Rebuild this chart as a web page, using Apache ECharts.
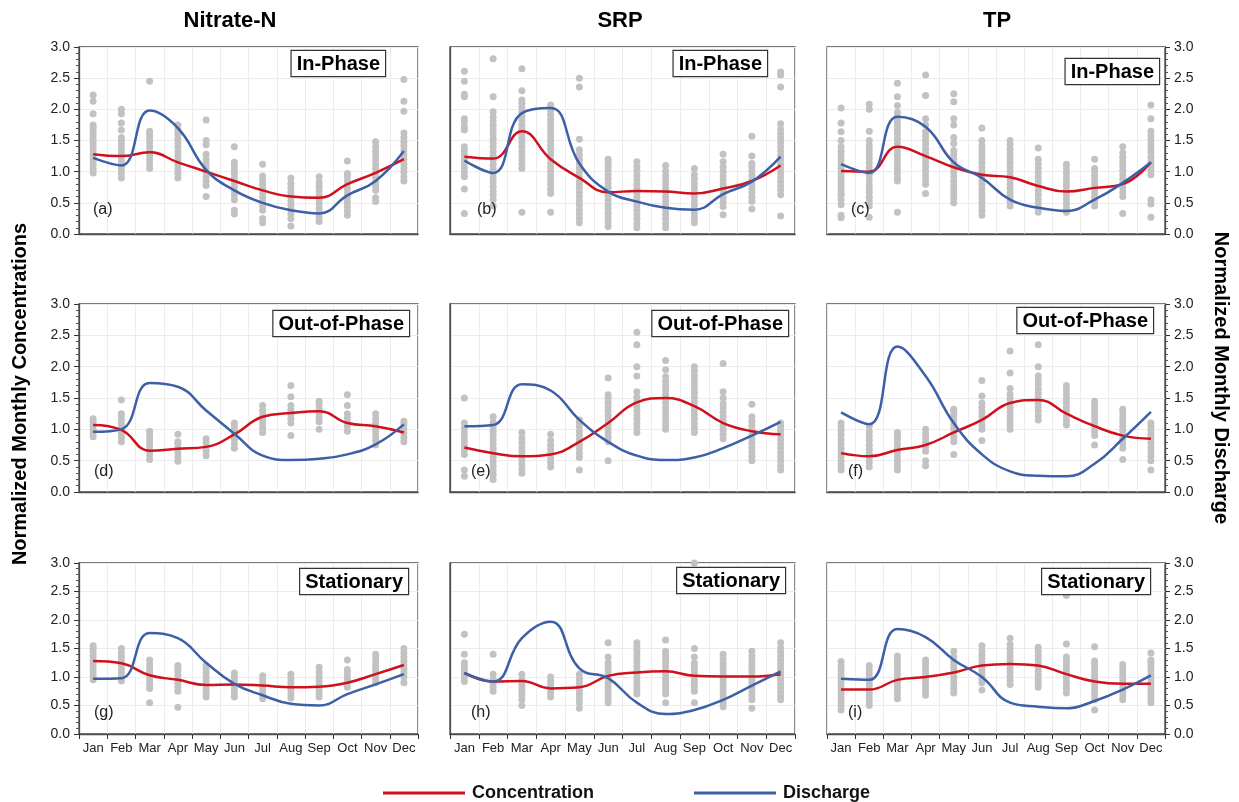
<!DOCTYPE html>
<html>
<head>
<meta charset="utf-8">
<script src="https://cdn.jsdelivr.net/npm/echarts@6/dist/echarts.min.js"></script>
<style>
html,body{margin:0;padding:0;background:#fff;}
#chart{width:1239px;height:802px;}
</style>
</head>
<body>
<div id="chart"></div>
<script>
// ---------- DATA ----------
const months = ['Jan','Feb','Mar','Apr','May','Jun','Jul','Aug','Sep','Oct','Nov','Dec'];
const columnTitles = ['Nitrate-N','SRP','TP'];
const yTicks = [0, 3.0, 0.5];

// (a) Nitrate-N, In-Phase
const concA = [1.28,1.25,1.31,1.15,1.0,0.85,0.7,0.6,0.58,0.8,0.98,1.2];
const disA  = [1.22,1.1,1.98,1.7,1.03,0.7,0.5,0.38,0.33,0.62,0.85,1.33];
const scatA = [
 [0.98,1.04,1.1,1.16,1.22,1.28,1.34,1.4,1.46,1.52,1.58,1.64,1.7,1.75,1.93,2.13,2.23],
 [0.9,0.97,1.04,1.1,1.17,1.24,1.3,1.37,1.44,1.5,1.55,1.67,1.78,1.93,2.0],
 [1.05,1.12,1.19,1.26,1.33,1.4,1.47,1.54,1.6,1.65,2.45],
 [0.9,0.97,1.04,1.11,1.18,1.25,1.32,1.39,1.46,1.53,1.6,1.67,1.75],
 [0.6,0.78,0.85,0.92,0.99,1.06,1.13,1.2,1.28,1.43,1.5,1.83],
 [0.32,0.38,0.55,0.62,0.69,0.76,0.83,0.9,0.97,1.04,1.1,1.15,1.4],
 [0.18,0.25,0.38,0.45,0.52,0.59,0.66,0.73,0.8,0.87,0.93,1.12],
 [0.13,0.25,0.32,0.39,0.46,0.53,0.6,0.67,0.74,0.81,0.9],
 [0.2,0.27,0.34,0.41,0.48,0.55,0.62,0.69,0.76,0.83,0.92],
 [0.3,0.37,0.44,0.51,0.58,0.65,0.72,0.79,0.86,0.93,0.97,1.17],
 [0.52,0.58,0.7,0.77,0.84,0.91,0.98,1.05,1.12,1.19,1.26,1.33,1.4,1.48],
 [0.85,0.92,0.99,1.06,1.13,1.2,1.27,1.34,1.41,1.48,1.55,1.62,1.97,2.13,2.48]
];

// (b) SRP, In-Phase
const concB = [1.24,1.21,1.65,1.2,0.9,0.67,0.69,0.68,0.65,0.73,0.85,1.1];
const disB  = [1.18,0.98,1.94,2.02,1.13,0.68,0.52,0.42,0.39,0.64,0.84,1.24];
const scatB = [
 [0.33,0.72,0.92,0.99,1.06,1.13,1.2,1.27,1.34,1.4,1.67,1.72,1.8,1.85,2.2,2.24,2.45,2.61],
 [0.45,0.55,0.62,0.69,0.76,0.83,0.9,0.97,1.04,1.11,1.18,1.25,1.32,1.39,1.46,1.53,1.6,1.67,1.74,1.81,1.88,1.96,2.2,2.81],
 [0.35,1.05,1.12,1.19,1.26,1.33,1.4,1.47,1.54,1.61,1.68,1.75,1.82,1.89,1.96,2.03,2.1,2.15,2.3,2.65],
 [0.35,0.65,0.72,0.79,0.86,0.93,1.0,1.07,1.14,1.21,1.28,1.35,1.42,1.49,1.56,1.63,1.7,1.77,1.84,1.91,1.98,2.07],
 [0.18,0.25,0.32,0.39,0.46,0.53,0.6,0.67,0.74,0.8,0.84,0.92,0.99,1.06,1.13,1.2,1.27,1.35,1.52,2.36,2.5],
 [0.12,0.19,0.26,0.33,0.4,0.47,0.54,0.61,0.68,0.75,0.82,0.89,0.96,1.03,1.1,1.15,1.2],
 [0.1,0.17,0.24,0.31,0.38,0.45,0.52,0.59,0.66,0.73,0.8,0.87,0.94,1.01,1.08,1.16],
 [0.1,0.17,0.24,0.31,0.38,0.45,0.52,0.59,0.66,0.73,0.8,0.87,0.94,1.01,1.1],
 [0.18,0.25,0.32,0.39,0.46,0.53,0.6,0.67,0.74,0.81,0.88,0.95,1.05],
 [0.31,0.44,0.51,0.58,0.65,0.72,0.79,0.86,0.93,1.0,1.07,1.16,1.28],
 [0.4,0.52,0.59,0.66,0.73,0.8,0.87,0.94,1.01,1.08,1.13,1.25,1.57],
 [0.29,0.63,0.7,0.77,0.84,0.91,0.98,1.05,1.12,1.19,1.26,1.33,1.4,1.47,1.54,1.61,1.68,1.77,2.36,2.55,2.6]
];

// (c) TP, In-Phase
const concC = [1.01,1.0,1.4,1.25,1.07,0.95,0.91,0.77,0.68,0.74,0.8,1.15];
const disC  = [1.12,0.98,1.88,1.72,1.15,0.9,0.55,0.42,0.37,0.55,0.82,1.15];
const scatC = [
 [0.26,0.3,0.47,0.55,0.62,0.65,0.7,0.77,0.84,0.91,0.98,1.05,1.12,1.19,1.26,1.33,1.4,1.5,1.64,1.78,2.02],
 [0.27,0.45,0.52,0.59,0.66,0.73,0.8,0.87,0.95,1.0,1.07,1.14,1.21,1.28,1.35,1.42,1.5,1.65,2.0,2.08],
 [0.35,0.85,0.9,0.97,1.04,1.11,1.18,1.25,1.32,1.39,1.46,1.53,1.6,1.67,1.74,1.81,1.88,1.95,2.06,2.2,2.42],
 [0.65,0.8,0.87,0.94,1.01,1.08,1.15,1.22,1.29,1.36,1.43,1.5,1.57,1.64,1.75,1.85,2.22,2.55],
 [0.5,0.57,0.64,0.71,0.78,0.85,0.92,0.99,1.06,1.13,1.2,1.27,1.34,1.45,1.55,1.75,1.85,2.12,2.25],
 [0.3,0.37,0.44,0.51,0.58,0.65,0.72,0.79,0.86,0.93,1.0,1.07,1.14,1.21,1.28,1.35,1.42,1.5,1.7],
 [0.45,0.52,0.59,0.66,0.73,0.8,0.87,0.94,1.01,1.08,1.15,1.22,1.29,1.36,1.43,1.5],
 [0.35,0.42,0.49,0.56,0.63,0.7,0.77,0.84,0.91,0.98,1.05,1.12,1.2,1.38],
 [0.35,0.42,0.49,0.56,0.63,0.7,0.77,0.84,0.91,0.98,1.05,1.12],
 [0.45,0.52,0.59,0.66,0.73,0.8,0.87,0.94,1.01,1.05,1.2],
 [0.33,0.6,0.67,0.74,0.81,0.88,0.95,1.02,1.09,1.16,1.23,1.3,1.4],
 [0.27,0.48,0.55,0.95,1.02,1.09,1.16,1.23,1.3,1.37,1.44,1.51,1.58,1.65,1.85,2.07]
];

// (d) Nitrate-N, Out-of-Phase
const concD = [1.07,0.99,0.66,0.69,0.72,0.92,1.2,1.26,1.29,1.1,1.05,0.95];
const disD  = [0.96,1.0,1.74,1.68,1.3,0.93,0.58,0.51,0.53,0.6,0.76,1.08];
const scatD = [
 [0.88,0.94,1.0,1.06,1.12,1.17],
 [0.8,0.87,0.94,1.01,1.08,1.15,1.22,1.25,1.47],
 [0.52,0.59,0.66,0.73,0.8,0.87,0.93,0.97],
 [0.49,0.56,0.63,0.7,0.77,0.8,0.92],
 [0.58,0.65,0.72,0.79,0.85],
 [0.7,0.77,0.84,0.91,0.98,1.05,1.1],
 [0.95,1.02,1.09,1.16,1.23,1.3,1.38],
 [0.9,1.1,1.17,1.24,1.31,1.38,1.52,1.7],
 [1.0,1.12,1.19,1.26,1.33,1.4,1.45],
 [0.97,1.04,1.11,1.18,1.25,1.38,1.55],
 [0.75,0.82,0.89,0.96,1.03,1.1,1.17,1.25],
 [0.8,0.87,0.94,1.01,1.08,1.13]
];

// (e) SRP, Out-of-Phase
const concE = [0.71,0.62,0.57,0.6,0.8,1.1,1.43,1.5,1.37,1.1,0.97,0.92];
const disE  = [1.05,1.07,1.72,1.62,1.15,0.8,0.58,0.51,0.55,0.7,0.9,1.12];
const scatE = [
 [0.25,0.35,0.6,0.67,0.74,0.81,0.88,0.95,1.02,1.1,1.5],
 [0.2,0.27,0.34,0.41,0.48,0.55,0.62,0.69,0.76,0.83,0.9,0.97,1.04,1.11,1.2],
 [0.3,0.37,0.44,0.51,0.58,0.65,0.72,0.79,0.86,0.95],
 [0.4,0.47,0.54,0.61,0.68,0.75,0.82,0.92],
 [0.35,0.55,0.62,0.69,0.76,0.83,0.9,0.97,1.04,1.11,1.15],
 [0.5,0.8,0.87,0.94,1.01,1.08,1.15,1.22,1.29,1.36,1.43,1.5,1.55,1.82],
 [0.95,1.02,1.09,1.16,1.23,1.3,1.37,1.44,1.51,1.6,1.85,2.0,2.35,2.55],
 [1.0,1.07,1.14,1.21,1.28,1.35,1.42,1.49,1.56,1.63,1.7,1.77,1.84,1.95,2.1],
 [0.95,1.02,1.09,1.16,1.23,1.3,1.37,1.44,1.51,1.58,1.65,1.72,1.79,1.86,1.93,2.0],
 [0.85,0.92,0.99,1.06,1.13,1.2,1.27,1.34,1.41,1.5,1.6,2.05],
 [0.5,0.57,0.64,0.71,0.78,0.85,0.92,0.99,1.06,1.13,1.2,1.4],
 [0.35,0.42,0.49,0.56,0.63,0.7,0.77,0.84,0.91,0.98,1.05,1.1]
];

// (f) TP, Out-of-Phase
const concF = [0.62,0.57,0.67,0.75,0.95,1.15,1.42,1.47,1.25,1.05,0.9,0.85];
const disF  = [1.27,1.08,2.32,1.85,1.1,0.6,0.33,0.26,0.25,0.45,0.85,1.28];
const scatF = [
 [0.35,0.42,0.49,0.56,0.63,0.7,0.77,0.84,0.91,0.98,1.05,1.1],
 [0.4,0.47,0.54,0.61,0.68,0.75,0.82,0.89,0.96,1.05],
 [0.35,0.42,0.49,0.56,0.63,0.7,0.77,0.84,0.9,0.95],
 [0.42,0.5,0.65,0.72,0.79,0.86,0.93,1.0],
 [0.6,0.8,0.87,0.94,1.01,1.08,1.15,1.22,1.28,1.32],
 [0.82,1.0,1.07,1.14,1.21,1.28,1.35,1.42,1.53,1.78],
 [1.0,1.07,1.14,1.21,1.28,1.35,1.42,1.49,1.56,1.65,1.9,2.25],
 [1.15,1.22,1.29,1.36,1.43,1.5,1.57,1.64,1.71,1.78,1.85,2.0,2.35],
 [1.07,1.14,1.21,1.28,1.35,1.42,1.49,1.56,1.63,1.7],
 [0.75,0.9,0.97,1.04,1.11,1.18,1.25,1.32,1.39,1.45],
 [0.52,0.7,0.77,0.84,0.91,0.98,1.05,1.12,1.19,1.26,1.32],
 [0.35,0.5,0.57,0.64,0.71,0.78,0.85,0.92,0.99,1.05,1.1]
];

// (g) Nitrate-N, Stationary
const concG = [1.28,1.24,1.03,0.95,0.86,0.87,0.85,0.82,0.83,0.9,1.05,1.21];
const disG  = [0.97,0.98,1.77,1.68,1.25,0.88,0.68,0.53,0.5,0.7,0.87,1.05];
const scatG = [
 [0.95,1.02,1.09,1.16,1.23,1.3,1.37,1.44,1.5,1.55],
 [0.93,1.0,1.07,1.14,1.21,1.28,1.35,1.42,1.5],
 [0.55,0.8,0.87,0.94,1.01,1.08,1.15,1.22,1.3],
 [0.47,0.75,0.82,0.89,0.96,1.03,1.1,1.15,1.2],
 [0.65,0.72,0.79,0.86,0.93,1.0,1.07,1.14,1.2],
 [0.65,0.72,0.79,0.86,0.93,1.0,1.07],
 [0.62,0.69,0.76,0.83,0.9,0.97,1.02],
 [0.63,0.7,0.77,0.84,0.91,0.98,1.05],
 [0.65,0.72,0.79,0.86,0.93,1.0,1.08,1.17],
 [0.82,0.89,0.96,1.03,1.1,1.13,1.3],
 [0.9,0.97,1.04,1.11,1.18,1.25,1.32,1.4],
 [0.9,1.0,1.07,1.14,1.21,1.28,1.35,1.42,1.5]
];

// (h) SRP, Stationary
const concH = [1.07,0.92,0.93,0.8,0.82,1.02,1.08,1.1,1.02,1.01,1.01,1.05];
const disH  = [1.07,0.92,1.68,1.97,1.15,0.98,0.55,0.35,0.42,0.6,0.85,1.1];
const scatH = [
 [0.92,0.99,1.06,1.13,1.2,1.25,1.4,1.75],
 [0.75,0.82,0.89,0.96,1.05,1.4],
 [0.5,0.6,0.67,0.74,0.81,0.88,0.95,1.05],
 [0.65,0.72,0.79,0.86,0.93,1.0],
 [0.45,0.55,0.62,0.69,0.76,0.83,0.9,0.97,1.05],
 [0.55,0.62,0.69,0.76,0.83,0.9,0.97,1.04,1.11,1.18,1.25,1.35,1.6],
 [0.7,0.77,0.84,0.91,0.98,1.05,1.12,1.19,1.26,1.33,1.4,1.47,1.54,1.6],
 [0.55,0.7,0.77,0.84,0.91,0.98,1.05,1.12,1.19,1.26,1.33,1.4,1.45,1.65],
 [0.55,0.75,0.82,0.89,0.96,1.03,1.1,1.17,1.24,1.35,1.5,3.0],
 [0.48,0.55,0.62,0.69,0.76,0.83,0.9,0.97,1.04,1.11,1.18,1.25,1.32,1.4],
 [0.45,0.6,0.67,0.74,0.81,0.88,0.95,1.02,1.09,1.16,1.23,1.3,1.37,1.45],
 [0.6,0.67,0.74,0.81,0.88,0.95,1.02,1.09,1.16,1.23,1.3,1.37,1.44,1.51,1.6]
];

// (i) TP, Stationary
const concI = [0.78,0.78,0.95,1.0,1.08,1.2,1.23,1.2,1.05,0.92,0.88,0.88];
const disI  = [0.97,0.95,1.84,1.7,1.3,1.0,0.55,0.48,0.45,0.58,0.78,1.03];
const scatI = [
 [0.42,0.49,0.56,0.63,0.7,0.77,0.84,0.91,0.98,1.05,1.12,1.19,1.27],
 [0.5,0.57,0.64,0.71,0.78,0.85,0.92,0.99,1.06,1.13,1.2],
 [0.62,0.69,0.76,0.83,0.9,0.97,1.04,1.11,1.18,1.25,1.32,1.37],
 [0.68,0.75,0.82,0.89,0.96,1.03,1.1,1.17,1.24,1.3],
 [0.72,0.79,0.86,0.93,1.0,1.07,1.14,1.21,1.28,1.35,1.45],
 [0.77,0.9,0.97,1.04,1.11,1.18,1.25,1.32,1.39,1.46,1.55],
 [0.87,0.94,1.01,1.08,1.15,1.22,1.29,1.36,1.43,1.5,1.57,1.68],
 [0.82,0.89,0.96,1.03,1.1,1.17,1.24,1.31,1.38,1.45,1.52],
 [0.72,0.79,0.86,0.93,1.0,1.07,1.14,1.21,1.28,1.35,1.58,2.43],
 [0.42,0.6,0.67,0.74,0.81,0.88,0.95,1.02,1.09,1.16,1.23,1.28,1.53],
 [0.6,0.67,0.74,0.81,0.88,0.95,1.02,1.09,1.16,1.22],
 [0.55,0.62,0.69,0.76,0.83,0.9,0.97,1.04,1.11,1.18,1.25,1.3,1.42]
];

// ---------- LAYOUT ----------
const FONT = '"Liberation Sans", Arial, Helvetica, sans-serif';
const RED = '#d0101c', BLUE = '#3c5fa6', GRAY = '#c2c2c2';
const colLeft = [79, 450, 827], colWidth = [339, 345, 338];
const rowTop = [47, 304, 563], rowHeight = [187, 188, 171];

const panels = [
  {conc:concA, dis:disA, scat:scatA, row:0, col:0, tag:'(a)', phase:'In-Phase',     tagX:93,  boxR:385,  boxT:51},
  {conc:concB, dis:disB, scat:scatB, row:0, col:1, tag:'(b)', phase:'In-Phase',     tagX:477, boxR:767,  boxT:51},
  {conc:concC, dis:disC, scat:scatC, row:0, col:2, tag:'(c)', phase:'In-Phase',     tagX:851, boxR:1159, boxT:59},
  {conc:concD, dis:disD, scat:scatD, row:1, col:0, tag:'(d)', phase:'Out-of-Phase', tagX:94,  boxR:409,  boxT:311},
  {conc:concE, dis:disE, scat:scatE, row:1, col:1, tag:'(e)', phase:'Out-of-Phase', tagX:471, boxR:788,  boxT:311},
  {conc:concF, dis:disF, scat:scatF, row:1, col:2, tag:'(f)', phase:'Out-of-Phase', tagX:848, boxR:1153, boxT:308},
  {conc:concG, dis:disG, scat:scatG, row:2, col:0, tag:'(g)', phase:'Stationary',   tagX:94,  boxR:408,  boxT:569},
  {conc:concH, dis:disH, scat:scatH, row:2, col:1, tag:'(h)', phase:'Stationary',   tagX:471, boxR:785,  boxT:568},
  {conc:concI, dis:disI, scat:scatI, row:2, col:2, tag:'(i)', phase:'Stationary',   tagX:848, boxR:1150, boxT:569}
];
const tagY = [210, 472, 713];

const grids = [], xAxes = [], yAxes = [], series = [], graphics = [];
panels.forEach((p, i) => {
  const bottomRow = p.row === 2;
  grids.push({left: colLeft[p.col], top: rowTop[p.row], width: colWidth[p.col], height: rowHeight[p.row],
    show: true, borderColor: '#4d4d4d', borderWidth: 1.3, backgroundColor: '#fff', containLabel: false});
  xAxes.push({type: 'category', gridIndex: i, data: months, boundaryGap: true,
    axisLine: {show: true, lineStyle: {color: '#4d4d4d', width: 1.3}},
    axisTick: {show: bottomRow, length: 5, lineStyle: {color: '#333'}},
    axisLabel: {show: bottomRow, interval: 0, fontSize: 13, color: '#222', fontFamily: FONT, margin: 8, hideOverlap: false},
    splitLine: {show: true, lineStyle: {color: '#ececec', width: 1}}});
  const labelled = p.col !== 1;
  yAxes.push({type: 'value', gridIndex: i, min: yTicks[0], max: yTicks[1], interval: yTicks[2],
    position: p.col === 2 ? 'right' : 'left',
    axisLine: {show: true, lineStyle: {color: '#4d4d4d', width: 1.3}},
    axisTick: {show: labelled, length: 5, lineStyle: {color: '#333'}},
    minorTick: {show: labelled, splitNumber: 5, length: 3, lineStyle: {color: '#555'}},
    axisLabel: {show: labelled, fontSize: 14, color: '#222', fontFamily: FONT, margin: 9,
      formatter: v => v.toFixed(1)},
    splitLine: {show: true, lineStyle: {color: '#ececec', width: 1}}});
  series.push({type: 'scatter', name: 'obs' + i, xAxisIndex: i, yAxisIndex: i, symbolSize: 7, z: 2,
    itemStyle: {color: GRAY, opacity: 1}, silent: true,
    data: p.scat.flatMap((arr, m) => arr.map(v => [m, v]))});
  series.push({type: 'line', name: 'Concentration', xAxisIndex: i, yAxisIndex: i, data: p.conc,
    smooth: 0.45, showSymbol: false, z: 3, lineStyle: {color: RED, width: 2.5}, itemStyle: {color: RED}});
  series.push({type: 'line', name: 'Discharge', xAxisIndex: i, yAxisIndex: i, data: p.dis,
    smooth: 0.45, showSymbol: false, z: 4, lineStyle: {color: BLUE, width: 2.5}, itemStyle: {color: BLUE}});
  graphics.push({type: 'text', x: p.tagX, y: tagY[p.row], z: 10,
    style: {text: p.tag, font: '16px ' + FONT, fill: '#222', align: 'left', verticalAlign: 'middle', textAlign: 'left', textVerticalAlign: 'middle'}});
  graphics.push({type: 'text', x: p.boxR, y: p.boxT, z: 10,
    style: {text: p.phase, font: 'bold 20px ' + FONT, fill: '#000', align: 'right', verticalAlign: 'top', textAlign: 'right', textVerticalAlign: 'top',
      backgroundColor: '#fff', borderColor: '#333', borderWidth: 1.2, padding: [3, 5, 2, 5]}});
});

// axis titles
graphics.push({type: 'text', x: 20, y: 394, rotation: Math.PI / 2, z: 10,
  style: {text: 'Normalized Monthly Concentrations', font: 'bold 20px ' + FONT, fill: '#000', align: 'center', verticalAlign: 'middle', textAlign: 'center', textVerticalAlign: 'middle'}});
graphics.push({type: 'text', x: 1221, y: 378, rotation: -Math.PI / 2, z: 10,
  style: {text: 'Normalized Monthly Discharge', font: 'bold 20px ' + FONT, fill: '#000', align: 'center', verticalAlign: 'middle', textAlign: 'center', textVerticalAlign: 'middle'}});

const titleX = [225, 615, 992];
const titles = columnTitles.map((t, c) => ({text: t, left: titleX[c], top: 5, textAlign: 'center',
  textStyle: {fontSize: 22, fontWeight: 'bold', color: '#000', fontFamily: FONT}}));

const chart = echarts.init(document.getElementById('chart'), null, {renderer: 'canvas'});
chart.setOption({
  animation: false,
  backgroundColor: '#fff',
  title: titles,
  grid: grids,
  xAxis: xAxes,
  yAxis: yAxes,
  legend: {data: ['Concentration', 'Discharge'], left: 378, top: 779, icon: 'rect', itemWidth: 82, itemHeight: 3,
    itemGap: 100, selectedMode: false,
    textStyle: {fontSize: 18, fontWeight: 'bold', color: '#111', fontFamily: FONT, padding: [0, 0, 0, 2]}},
  series: series,
  graphic: graphics
});
</script>
</body>
</html>
